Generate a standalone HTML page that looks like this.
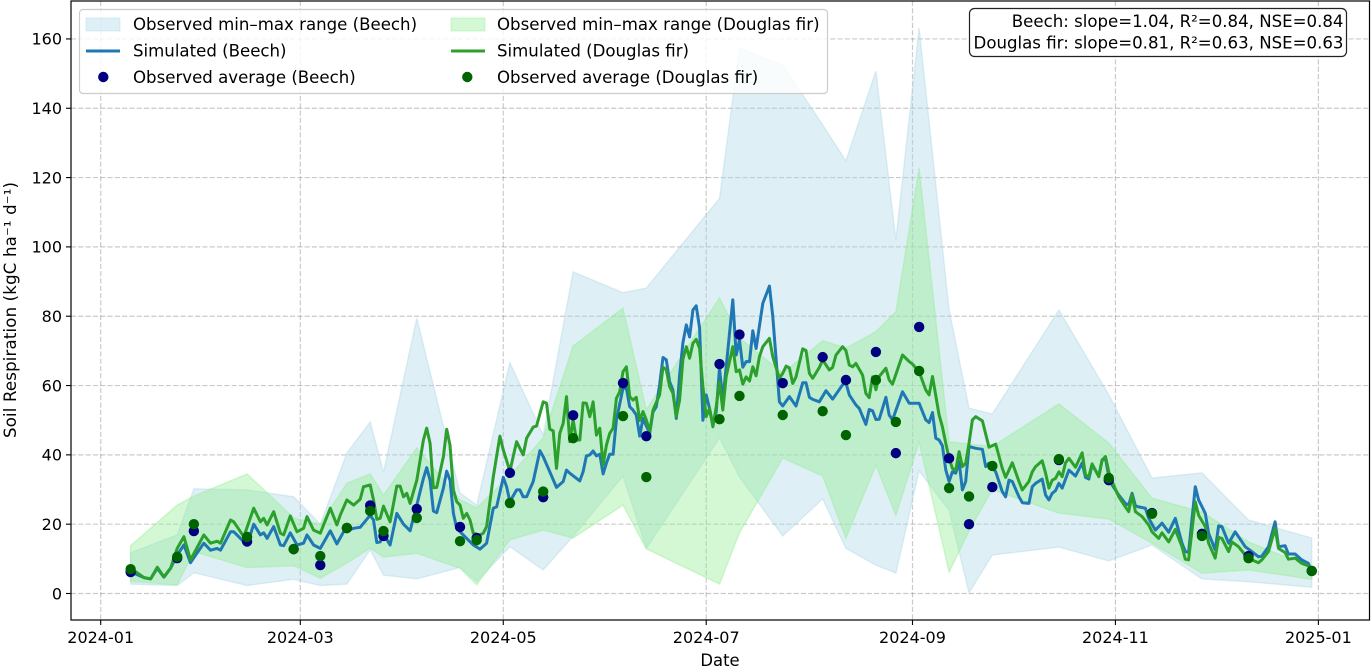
<!DOCTYPE html>
<html lang="en">
<head>
<meta charset="utf-8">
<title>Soil Respiration: Beech and Douglas fir</title>
<style>
html,body{margin:0;padding:0;background:#fff;}
svg{display:block;font-family:"DejaVu Sans","Liberation Sans",sans-serif;fill:#000;}
</style>
</head>
<body>
<svg id="chart" xmlns="http://www.w3.org/2000/svg" width="1372" height="667" viewBox="0 0 1372 667">
  <rect x="71" y="1" width="1298.5" height="619" fill="#fff"/>
  <g id="grid"></g>
  <g id="bands"></g>
  <g id="lines"></g>
  <g id="points"></g>
  <rect x="71" y="1" width="1298.5" height="619" fill="none" stroke="#000" stroke-width="1.2"/>
  <g id="ticks"></g>
  <text x="720" y="666" font-size="16.4" text-anchor="middle">Date</text>
  <text transform="translate(16,310) rotate(-90)" font-size="16.6" text-anchor="middle" textLength="256" lengthAdjust="spacing">Soil Respiration (kgC ha⁻¹ d⁻¹)</text>

  <g font-size="16.6">
    <rect x="79.5" y="9.5" width="748" height="84" rx="3.5" fill="#fff" fill-opacity="0.8" stroke="#cccccc" stroke-width="1.2"/>
    <rect x="86" y="18" width="34" height="13" fill="#add8e6" fill-opacity="0.4" stroke="#add8e6" stroke-opacity="0.4"/>
    <text x="133" y="30">Observed min–max range (Beech)</text>
    <line x1="86" y1="51" x2="120" y2="51" stroke="#1f77b4" stroke-width="3"/>
    <text x="133" y="56.5">Simulated (Beech)</text>
    <circle cx="103.3" cy="77" r="5.2" fill="#000080"/>
    <text x="133" y="83">Observed average (Beech)</text>
    <rect x="451" y="18" width="34" height="13" fill="#90ee90" fill-opacity="0.4" stroke="#90ee90" stroke-opacity="0.4"/>
    <text x="497" y="30">Observed min–max range (Douglas fir)</text>
    <line x1="451" y1="51" x2="485" y2="51" stroke="#2ca02c" stroke-width="3"/>
    <text x="497" y="56.5">Simulated (Douglas fir)</text>
    <circle cx="467.3" cy="77" r="5.2" fill="#006400"/>
    <text x="497" y="83">Observed average (Douglas fir)</text>
  </g>

  <g font-size="16.6">
    <rect x="969.5" y="8.5" width="377" height="48" rx="5" fill="#fff" fill-opacity="0.9" stroke="#222" stroke-width="1.2"/>
    <text x="1343.5" y="27" text-anchor="end">Beech: slope=1.04, R²=0.84, NSE=0.84</text>
    <text x="1343.5" y="48.5" text-anchor="end">Douglas fir: slope=0.81, R²=0.63, NSE=0.63</text>
  </g>
</svg>

<script>
const xTickDays = [0, 60, 121, 182, 244, 305, 366];
const xTickLabels = ['2024-01', '2024-03', '2024-05', '2024-07', '2024-09', '2024-11', '2025-01'];
const yTickValues = [0, 20, 40, 60, 80, 100, 120, 140, 160];

/* Observation days, counted from 2024-01-01 */
const obsDays = [9,23,28,44,58,66,74,81,85,95,108,113,123,133,142,157,164,186,192,205,217,224,233,239,246,255,261,268,288,303,316,331,345,364];
const obsBeech = [6.2,10.2,18,15,12.8,8.2,18.9,25.4,16.6,24.4,19.2,16,34.8,27.8,51.4,60.7,45.4,66.2,74.7,60.7,68.2,61.6,69.7,40.5,76.9,39,20,30.7,38.5,32.7,23.2,17.2,10.8,6.5];
const obsFir = [7,10.6,20,16.3,12.8,10.8,18.9,23.8,18,21.8,15.1,15.4,26.1,29.4,44.8,51.2,33.6,50.3,57,51.5,52.6,45.7,61.6,49.5,64.2,30.4,28,36.8,38.8,33.3,23,16.6,10.2,6.5];
const beechMax = [11.7,16.9,30.2,29.9,27.9,20,40.5,49.5,35,79.4,29,25.5,66.6,45.7,92.8,86.8,88.1,114,157.4,152.5,135.2,124.8,150.7,102,163.2,81.8,53.5,51.8,81.8,57.3,33.3,34.8,21.2,16];
const beechMin = [2.7,2.3,6,2.3,4.1,2.3,2.7,12.6,5.3,4.2,7.5,3.5,13.5,6.8,16.5,33.9,13,44.9,33.6,16.6,27.3,13,8.2,5.9,35.4,24,0.2,11.1,13.4,9.4,14,4.2,3.4,1.8];
const firMax = [13.8,25.5,28.1,34.5,21.8,20,31.8,34.5,28.4,42,27,24.7,34,44.9,71.4,82.3,53,85.3,73.7,63.6,72.9,70.8,75.5,81.3,122.8,43.8,43.1,42.4,54.7,43.4,27.5,23.5,14.9,7.4];
const firMin = [3.5,2.5,12.1,7.5,8,4.4,8.8,13.1,10.5,11.6,7.3,2.5,15.5,18.3,16,25.5,12.9,2.7,17.5,39.1,33.9,16,37,22.6,43.7,6.2,18,30,23.2,21.5,14.5,5.9,6.8,4.1];

const simBeechDays = [
9,13,15,17,19,21,23,25,27,31,
33,35,36,39,40,44,46,48,49,50,
52,54,55,57,59,61,62,64,66,69,
71,73,76,78,81,82,83,84,85,87,
89,91,93,95,97,98,99,100,101,103,
104,105,106,107,110,112,114,116,118,119,
121,122,123,125,126,127,128,130,132,133,
135,137,139,140,141,144,145,146,147,148,
149,150,151,152,153,154,155,157,158,159,
160,161,162,163,165,166,167,168,169,170,
171,172,173,174,175,176,177,178,179,180,
181,182,183,184,185,186,187,188,190,191,
192,193,194,195,196,197,199,201,202,204,
205,207,209,211,212,213,214,216,218,220,
223,224,225,227,228,230,231,232,233,234,
236,237,238,241,243,246,248,249,250,251,
252,253,254,255,256,257,258,259,260,261,
263,265,266,267,269,271,272,273,274,276,
277,279,280,281,283,284,285,286,287,288,
289,291,293,295,296,297,298,300,301,302,
303,304,306,308,309,310,311,312,314,315,
317,319,321,323,325,326,327,329,330,332,
333,335,336,337,339,341,342,344,346,348,
349,351,353,354,356,357,359,361,363,364];
const simBeech = [
6.3,4.6,4.2,7.3,4.7,7.3,11.1,14,8.9,14.5,
12.5,13,12.5,17.8,17.8,14,20,16.9,17.5,15.9,
19.3,14,13.8,17.5,14,14.5,16.9,14,13,18.1,
14.3,17.8,18.8,19.1,22.6,21.2,14.7,14.9,17.2,14,
23.1,20,18.1,25.5,33.2,36.3,32.7,23.8,23.3,30.4,
35.3,32.7,23.1,18.8,15.9,14,12.8,14.5,24.6,25,
33.5,30.8,26.5,29.9,29.9,27.9,27.9,32.3,41.2,39.5,
35.1,30.6,32.3,35.6,34.7,32.5,35.1,39.7,40,41.1,
39.7,40.2,34.5,37.6,40.2,40.2,50.1,59.2,59.2,53.9,
52.9,51.5,45.4,50.5,46.2,52.4,53.9,60.2,68.1,67.4,
61.1,58.7,50.5,63,72.3,77.5,74,81.8,83,76.6,
50,57.3,53.4,48.6,52.4,65,55.8,65.4,84.7,68.8,
73.1,65.3,66.9,66.9,75.8,70.7,83.7,88.7,79.9,55.3,
54.1,56.8,54.1,60.8,60.8,56.6,56,55.3,58.5,56.1,
60.2,60.8,57.3,54.4,53.4,48.8,53.1,52.7,50.2,50.3,
56.6,51.5,50.1,58.2,54.9,54.9,50.1,49.3,52.2,44.8,
44.3,42.6,35.6,32.3,35.1,34.7,38,29.9,32.3,42.4,
41.9,41.6,36.6,37.6,35.1,29.4,27.9,32.7,32.3,27.9,
26.2,26,30.8,31.8,33,28.4,27,28.9,29.7,31.8,
30.4,35.6,33.9,37.7,33.5,33,37.1,33.9,38.5,39,
33.7,31.3,28.4,26,25.5,28.9,25.3,25,24.6,21.7,
18.3,20.3,17.7,21.7,14.5,12.1,11.9,30.8,27,23.1,
17.4,12.6,19.5,19.3,14.5,17.8,16.4,13.5,12.1,10.6,
10.8,13.5,20.7,13.5,13.8,11.4,11.4,9.7,8.7,6.3];

const simFirDays = [
9,13,15,17,19,21,23,25,27,31,
33,35,36,39,40,43,46,48,49,50,
52,54,55,57,59,61,62,64,66,69,
71,72,74,76,78,79,81,82,83,84,
85,87,89,90,91,92,93,95,97,98,
99,100,101,103,104,105,106,107,108,109,
110,111,112,114,115,116,118,120,121,123,
124,125,127,128,130,131,133,134,135,136,
137,138,139,140,141,142,143,144,145,146,
147,148,149,150,151,152,153,154,155,156,
157,158,159,160,161,162,163,164,165,166,
168,169,170,171,172,173,174,175,176,177,
178,179,180,181,182,183,184,185,186,187,
188,190,191,192,193,194,195,196,197,198,
199,201,202,204,205,206,207,208,209,211,
212,213,214,216,217,219,220,221,223,224,
225,226,227,229,230,231,232,233,234,236,
237,238,241,243,244,246,248,249,250,252,
253,254,255,256,257,258,259,260,261,262,
263,265,267,269,271,272,274,276,277,279,
280,281,283,284,285,286,287,288,289,290,
291,293,295,296,297,298,300,301,302,303,
304,306,308,309,310,311,313,315,316,318,
319,321,323,325,326,327,329,330,332,333,
335,336,337,339,340,342,344,346,348,349,
351,353,354,356,357,359,361,363,364];
const simFir = [
7.3,4.6,4.2,7.6,4.8,7.3,13,16.4,9.7,16.9,
14.5,15.1,14.5,21.2,20.7,16.4,24.6,20.7,21.7,19.8,
23.6,17.4,16.9,22.4,17.8,18.8,22.2,18.3,17.4,24.6,
19.8,22.6,27,25.5,27.2,30.8,31.3,27,21.4,21.7,
25.2,20.7,31,31,27.9,28.9,26,32.7,44.3,47.7,
43.3,30.5,30.6,39.5,47.4,42.8,29.9,26.5,25.5,21.7,
23.1,21.2,17.4,16.9,17.4,19.3,33.7,45.4,41.4,35.3,
39.5,43.8,40,44.8,48,48.3,55.3,54.9,47.4,46.9,
36.1,46.2,49.1,56.8,43.8,50.1,44.3,44.3,55,54.9,
51,55.3,45.7,47.7,37.1,42.8,46.2,47.7,56.3,58.2,
64,65.4,56.8,55.8,56.6,49.9,52.5,50.1,46.7,52.9,
57.3,65.3,64.5,59.7,57.8,51,55.8,67.5,71.2,67.9,
72.2,73.3,70.7,59.7,51,53.4,48.1,53.9,61.1,52.9,
62.6,71.2,64,64.5,60.4,62.5,61.3,65.4,62.8,68.3,
71.2,73.6,68.3,62.1,63.5,65.6,65.1,60.6,62.5,70.6,
70.1,63.5,62.1,65.2,67.4,64.5,65.2,68.8,71.2,70.1,
65.9,65.4,66.4,63,57.7,56.5,62.5,58.8,62.6,65,
61.6,60.4,68.8,66.9,66.2,64,58.7,57.3,62.6,51.5,
48.1,43.3,39,36.1,35.6,40.9,36.6,37.6,43.3,50.1,
51,49.8,42.2,43.1,36.1,33.5,37.7,32.3,29.9,32.3,
35.1,36.6,38.3,34.7,30.4,32.7,33.2,35.1,33.7,37.7,
39,36.4,40.6,34.2,33.7,37.4,33.7,38.5,39.5,35.1,
32.3,27.9,25,23.6,28.4,23.6,22.2,19.8,17.8,15.9,
17.5,14.9,18.5,13.5,9.9,9.7,26.5,22.6,19.3,14.5,
10.2,16.2,15.9,12.1,14.9,13.5,11.1,9.7,8.9,9.7,
12.1,18.8,13,11.8,9.9,10.2,8.7,8,6.3];

const NS = 'http://www.w3.org/2000/svg';
const xScale = d => 100.7 + 3.327 * d;
const yScale = v => 593.5 - 3.466 * v;

function make(tag, attrs, parent) {
  const el = document.createElementNS(NS, tag);
  for (const k in attrs) el.setAttribute(k, attrs[k]);
  parent.appendChild(el);
  return el;
}
function bandPath(days, upper, lower) {
  const top = days.map((d, i) => xScale(d).toFixed(1) + ',' + yScale(upper[i]).toFixed(1));
  const bottom = days.map((d, i) => xScale(d).toFixed(1) + ',' + yScale(lower[i]).toFixed(1)).reverse();
  return 'M' + top.concat(bottom).join('L') + 'Z';
}
function linePath(days, values) {
  return 'M' + days.map((d, i) => xScale(d).toFixed(1) + ',' + yScale(values[i]).toFixed(1)).join('L');
}

const gridG = document.getElementById('grid');
const ticksG = document.getElementById('ticks');
const gridStyle = {stroke: '#808080', 'stroke-opacity': 0.42, 'stroke-width': 1.2, 'stroke-dasharray': '5.1,2.2'};

xTickDays.forEach((d, i) => {
  const gl = make('line', Object.assign({x1: xScale(d), x2: xScale(d), y1: 1, y2: 620}, gridStyle), gridG);
  
  
  const tm = make('line', {x1: xScale(d), x2: xScale(d), y1: 620, y2: 625, stroke: '#000', 'stroke-width': 1.1}, ticksG);
  
  
  const tl = make('text', {x: xScale(d), y: 643, 'font-size': 16, 'text-anchor': 'middle'}, ticksG);
  tl.textContent = xTickLabels[i];
  
  
});
yTickValues.forEach(v => {
  const gl = make('line', Object.assign({x1: 71, x2: 1369.5, y1: yScale(v), y2: yScale(v)}, gridStyle), gridG);
  
  
  const tm = make('line', {x1: 66, x2: 71, y1: yScale(v), y2: yScale(v), stroke: '#000', 'stroke-width': 1.1}, ticksG);
  
  
  const tl = make('text', {x: 62, y: yScale(v) + 5.8, 'font-size': 16, 'text-anchor': 'end'}, ticksG);
  tl.textContent = String(v);
  
  
});

const bandsG = document.getElementById('bands');
const beechBand = make('path', {d: bandPath(obsDays, beechMax, beechMin), fill: '#add8e6', 'fill-opacity': 0.4, stroke: '#add8e6', 'stroke-opacity': 0.4, 'stroke-width': 1.4}, bandsG);


const firBand = make('path', {d: bandPath(obsDays, firMax, firMin), fill: '#90ee90', 'fill-opacity': 0.4, stroke: '#90ee90', 'stroke-opacity': 0.4, 'stroke-width': 1.4}, bandsG);



const linesG = document.getElementById('lines');
const beechLine = make('path', {d: linePath(simBeechDays, simBeech), fill: 'none', stroke: '#1f77b4', 'stroke-width': 3, 'stroke-linejoin': 'round'}, linesG);


const firLine = make('path', {d: linePath(simFirDays, simFir), fill: 'none', stroke: '#2ca02c', 'stroke-width': 3, 'stroke-linejoin': 'round'}, linesG);



const pointsG = document.getElementById('points');
obsDays.forEach((d, i) => {
  const c = make('circle', {cx: xScale(d), cy: yScale(obsBeech[i]), r: 5.2, fill: '#000080'}, pointsG);
  
  
});
obsDays.forEach((d, i) => {
  const c = make('circle', {cx: xScale(d), cy: yScale(obsFir[i]), r: 5.2, fill: '#006400'}, pointsG);
  
  
});
</script>
</body>
</html>
